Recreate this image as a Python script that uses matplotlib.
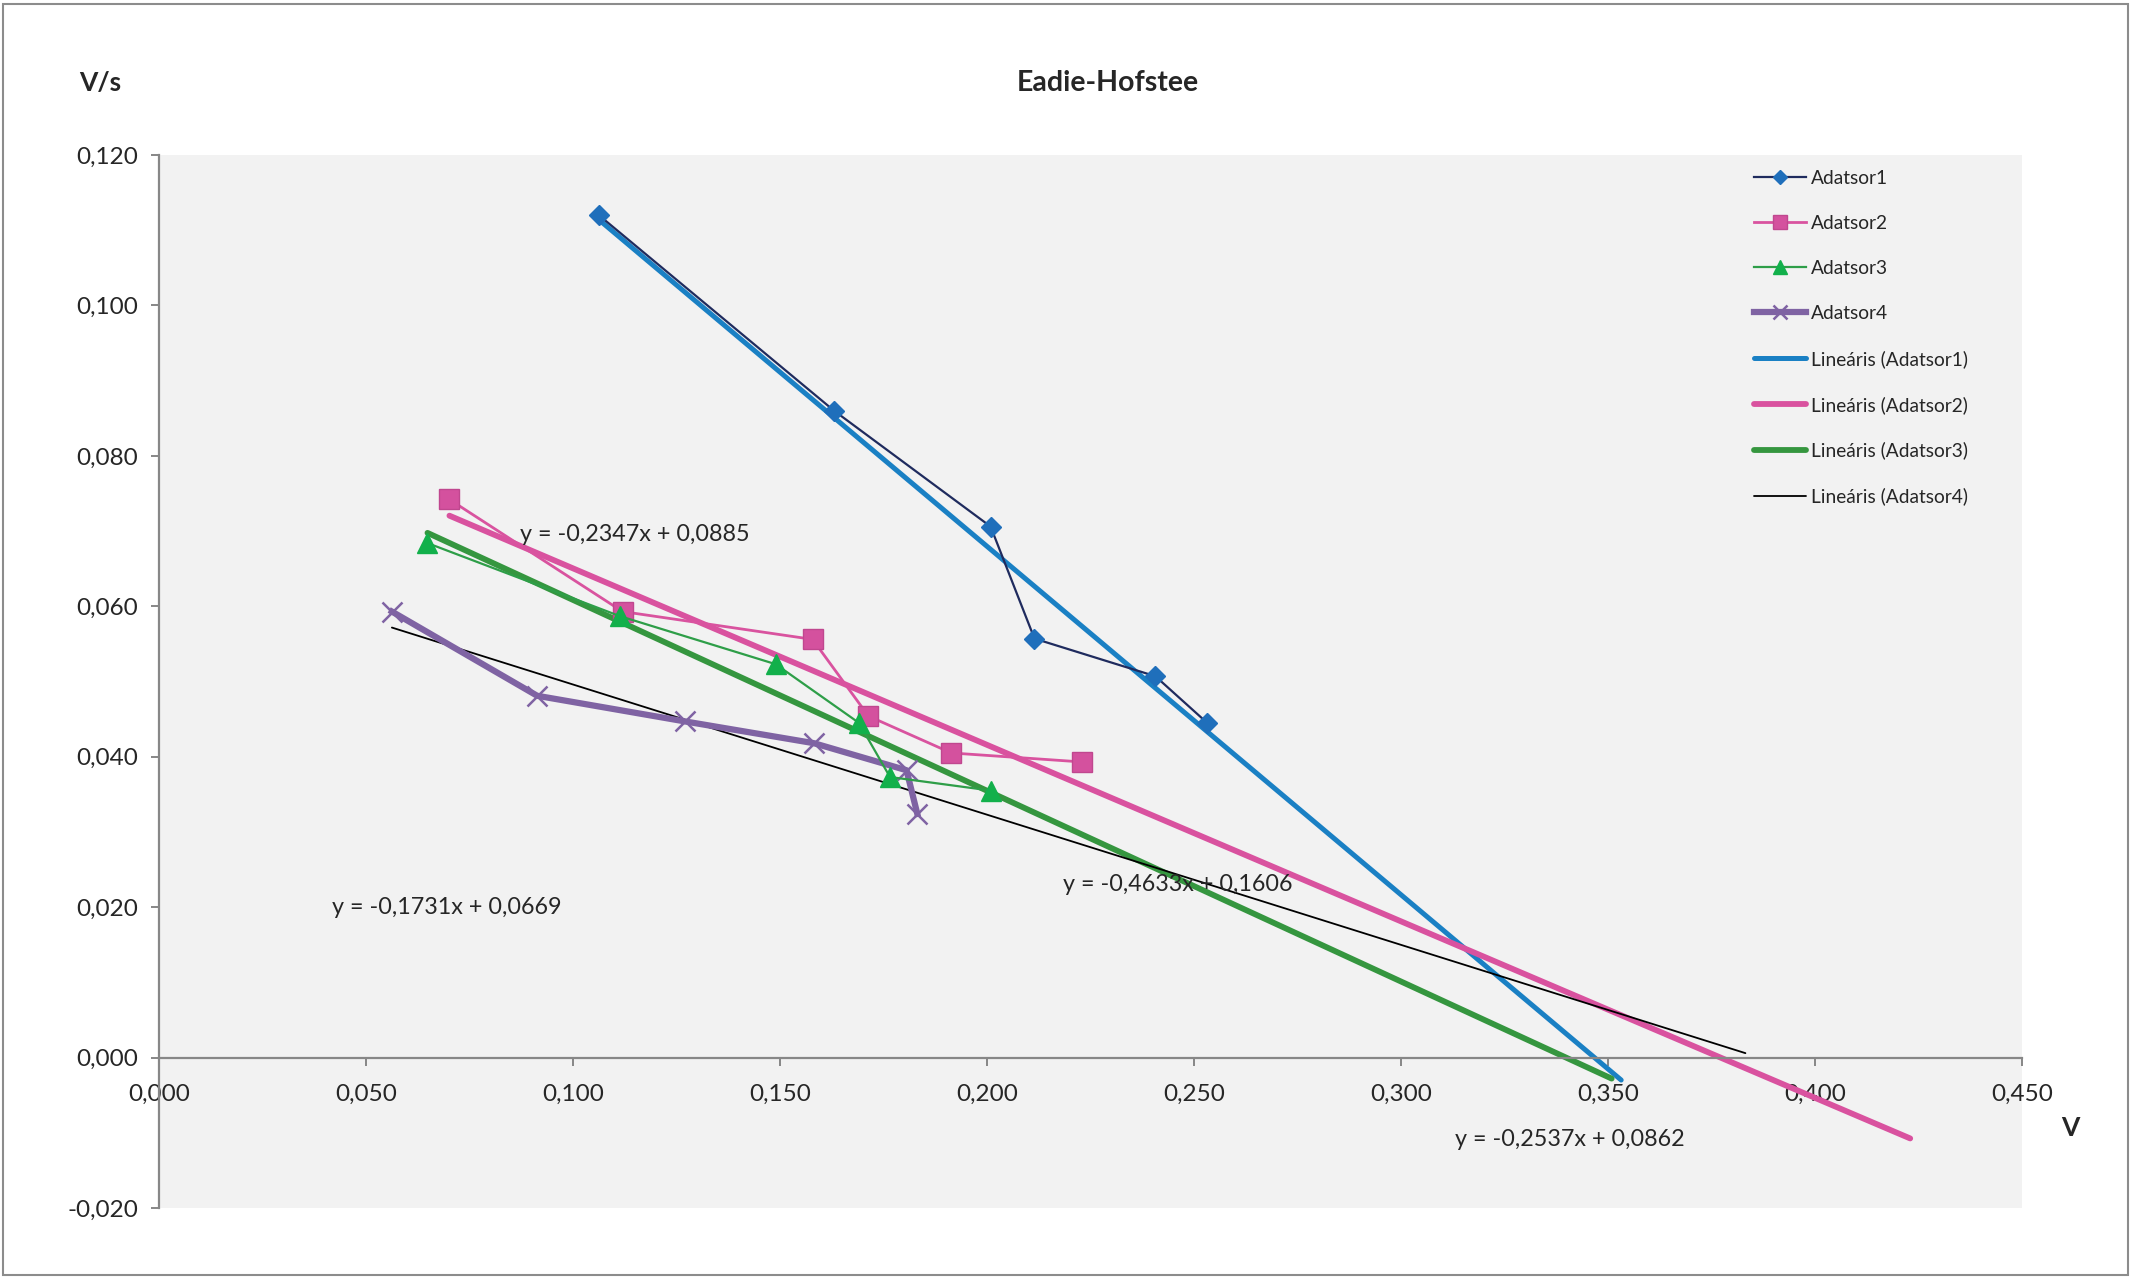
import numpy as np
import matplotlib
matplotlib.use("Agg")
import matplotlib.pyplot as plt
import matplotlib.patches as mpatches
from matplotlib.ticker import FuncFormatter, MultipleLocator

plt.rcParams["font.family"] = ["Lato", "DejaVu Sans"]

# data series (V, V/s)
S1_X = [0.1062, 0.1630, 0.2008, 0.2114, 0.2406, 0.2531]
S1_Y = [0.1120, 0.0860, 0.0706, 0.0557, 0.0507, 0.0445]
S2_X = [0.0701, 0.1119, 0.1578, 0.1713, 0.1913, 0.2229]
S2_Y = [0.0742, 0.0593, 0.0556, 0.0454, 0.0405, 0.0393]
S3_X = [0.0648, 0.1112, 0.1489, 0.1690, 0.1765, 0.2008]
S3_Y = [0.0684, 0.0587, 0.0523, 0.0445, 0.0373, 0.0355]
S4_X = [0.0562, 0.0913, 0.1269, 0.1581, 0.1805, 0.1831]
S4_Y = [0.0593, 0.0481, 0.0447, 0.0418, 0.0382, 0.0324]

NAMES = ["Adatsor1", "Adatsor2", "Adatsor3", "Adatsor4"]

# linear trendlines as printed on the chart, with forward forecast
SLOPES = [-0.4633, -0.2347, -0.2537, -0.1731]
INTERCEPTS = [0.1606, 0.0885, 0.0862, 0.0669]
FORECAST = [0.10, 0.20, 0.15, 0.20]
# label anchor (left, middle) in data coords, same order as trendlines
EQ_POS = [(0.2183, 0.0230), (0.0871, 0.0695), (0.3129, -0.0109), (0.0417, 0.0199)]

TEXT = "#262626"
GRID = "#878787"

fig = plt.figure(figsize=(21.34, 12.78), dpi=100)
fig.patch.set_facecolor("white")
ax = fig.add_axes([0.0746, 0.0548, 0.8731, 0.8239])
ax.set_facecolor("#f2f2f2")

ax.set_xlim(0, 0.45)
ax.set_ylim(-0.02, 0.12)
ax.xaxis.set_major_locator(MultipleLocator(0.05))
ax.yaxis.set_major_locator(MultipleLocator(0.02))
fmt = FuncFormatter(lambda v, p: f"{v:.3f}".replace(".", ",").replace("-0,000", "0,000"))
ax.xaxis.set_major_formatter(fmt)
ax.yaxis.set_major_formatter(fmt)

for s in ("top", "right"):
    ax.spines[s].set_visible(False)
ax.spines["bottom"].set_position(("data", 0))
for s in ("bottom", "left"):
    ax.spines[s].set_color(GRID)
    ax.spines[s].set_linewidth(1.6)
ax.tick_params(axis="both", direction="out", length=6, width=1.4, color=GRID,
               labelsize=17.5, labelcolor=TEXT)
ax.tick_params(axis="x", pad=13)
ax.tick_params(axis="y", pad=9)

xs_all = [S1_X, S2_X, S3_X, S4_X]
ys_all = [S1_Y, S2_Y, S3_Y, S4_Y]

# trendlines first
trend_styles = [
    dict(color="#1a80c4", lw=3.6),
    dict(color="#d9529f", lw=4.2),
    dict(color="#35963f", lw=4.2),
    dict(color="black", lw=1.3),
]
trend_handles = []
for i in range(4):
    x0 = min(xs_all[i])
    x1 = max(xs_all[i]) + FORECAST[i]
    tx = np.array([x0, x1])
    ty = SLOPES[i] * tx + INTERCEPTS[i]
    h, = ax.plot(tx, ty, solid_capstyle="round", zorder=2, **trend_styles[i])
    trend_handles.append(h)

# series
h1, = ax.plot(S1_X, S1_Y, color="#1f2b5e", lw=1.6, marker="D", markersize=10,
              markerfacecolor="#1f6fbb", markeredgecolor="#1f6fbb", zorder=3)
h2, = ax.plot(S2_X, S2_Y, color="#d9539f", lw=2.0, marker="s", markersize=14,
              markerfacecolor="#d4519e", markeredgecolor="#c0478f", zorder=3)
h3, = ax.plot(S3_X, S3_Y, color="#2e9e48", lw=1.6, marker="^", markersize=14,
              markerfacecolor="#12b04b", markeredgecolor="#12b04b", zorder=4)
h4, = ax.plot(S4_X, S4_Y, color="#7f63a3", lw=4.5, marker="x", markersize=15,
              markeredgewidth=1.8, markeredgecolor="#7f63a3", zorder=3)

# trendline equations
for i in range(4):
    s = f"{SLOPES[i]:.4f}".replace(".", ",")
    b = f"{INTERCEPTS[i]:.4f}".replace(".", ",")
    ax.text(EQ_POS[i][0], EQ_POS[i][1], f"y = {s}x + {b}", fontsize=16.8,
            color=TEXT, ha="left", va="center", zorder=5)

# titles
fig.text(0.519, 0.935, "Eadie-Hofstee", fontsize=20.5, fontweight="bold",
         color=TEXT, ha="center", va="center")
fig.text(0.047, 0.935, "V/s", fontsize=19, fontweight="bold",
         color=TEXT, ha="center", va="center")
fig.text(0.970, 0.117, "V", fontsize=19, fontweight="bold",
         color=TEXT, ha="center", va="center")

handles = [h1, h2, h3, h4] + trend_handles
labels = NAMES + [f"Lineáris ({n})" for n in NAMES]
leg = fig.legend(handles, labels, loc="upper left", bbox_to_anchor=(0.822, 0.867),
                 frameon=False, fontsize=13.8, handlelength=2.7, handletextpad=0.25,
                 labelspacing=1.46, borderpad=0, borderaxespad=0)
for t in leg.get_texts():
    t.set_color(TEXT)
for lh in leg.legend_handles[:4]:
    lh.set_markersize(lh.get_markersize() * 0.7)

# outer chart frame
fig.add_artist(mpatches.Rectangle((0.0015, 0.002), 0.9955, 0.995, transform=fig.transFigure,
                                  fill=False, edgecolor="#8c8c8c", linewidth=1.5))

fig.savefig("out.png", dpi=100, facecolor="white")
